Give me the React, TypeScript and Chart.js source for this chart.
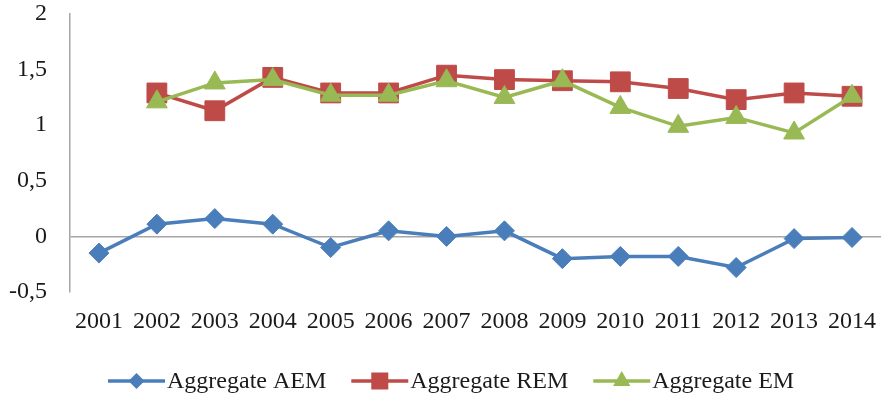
import React, { useEffect, useRef } from "react";
import { Chart, registerables } from "chart.js";

Chart.register(...registerables);

const years = ["2001", "2002", "2003", "2004", "2005", "2006", "2007", "2008", "2009", "2010", "2011", "2012", "2013", "2014"];
const aggregateAEM = [-0.15, 0.11, 0.16, 0.11, -0.1, 0.05, 0.0, 0.05, -0.2, -0.18, -0.18, -0.28, -0.02, -0.01];
const aggregateREM = [null, 1.29, 1.13, 1.43, 1.29, 1.29, 1.45, 1.41, 1.4, 1.39, 1.33, 1.23, 1.29, 1.26];
const aggregateEM = [null, 1.21, 1.38, 1.41, 1.27, 1.27, 1.4, 1.25, 1.4, 1.16, 0.99, 1.07, 0.93, 1.26];
const seriesNames = ["Aggregate AEM", "Aggregate REM", "Aggregate EM"];

const BLUE = "#4a7ebb";
const RED = "#be4b48";
const GREEN = "#98b954";
const FONT = "'Liberation Serif', 'Times New Roman', serif";

const legendPlugin = {
  id: "customLegend",
  afterDraw(chart: any) {
    const ctx = chart.ctx;
    const y = 381;
    const lineLen = 57;
    const itemGap = 25;
    ctx.save();
    ctx.font = `24px ${FONT}`;
    ctx.textBaseline = "middle";
    ctx.textAlign = "left";
    const items = chart.data.datasets.map((ds: any) => ({
      label: ds.label,
      color: ds.borderColor,
      style: ds.pointStyle,
      w: ctx.measureText(ds.label).width,
    }));
    let x = 108;
    for (const it of items) {
      ctx.strokeStyle = it.color;
      ctx.fillStyle = it.color;
      ctx.lineWidth = 3.5;
      ctx.beginPath();
      ctx.moveTo(x, y);
      ctx.lineTo(x + lineLen, y);
      ctx.stroke();
      const cx = x + lineLen / 2;
      ctx.beginPath();
      if (it.style === "rectRot") {
        const r = 8;
        ctx.moveTo(cx, y - r);
        ctx.lineTo(cx + r, y);
        ctx.lineTo(cx, y + r);
        ctx.lineTo(cx - r, y);
      } else if (it.style === "rect") {
        const s = 8.5;
        ctx.rect(cx - s, y - s, 2 * s, 2 * s);
      } else {
        const r = 10;
        ctx.moveTo(cx, y - r);
        ctx.lineTo(cx + r * 0.866, y + r * 0.5);
        ctx.lineTo(cx - r * 0.866, y + r * 0.5);
      }
      ctx.closePath();
      ctx.fill();
      ctx.fillStyle = "#1a1a1a";
      ctx.fillText(it.label, x + lineLen + 2, y + 1);
      x += lineLen + 2 + it.w + itemGap;
    }
    ctx.restore();
  },
};

export default function App() {
  const ref = useRef<HTMLCanvasElement>(null);
  useEffect(() => {
    document.body.style.margin = "0";
    const chart = new Chart(ref.current!, {
      type: "line",
      data: {
        labels: years,
        datasets: [
          {
            label: seriesNames[0],
            data: aggregateAEM,
            borderColor: BLUE,
            backgroundColor: BLUE,
            borderWidth: 3.5,
            pointStyle: "rectRot",
            pointRadius: 10,
            pointBorderWidth: 1,
            order: 2,
          },
          {
            label: seriesNames[1],
            data: aggregateREM,
            borderColor: RED,
            backgroundColor: RED,
            borderWidth: 3.5,
            pointStyle: "rect",
            pointRadius: 14,
            pointBorderWidth: 1,
            order: 1,
          },
          {
            label: seriesNames[2],
            data: aggregateEM,
            borderColor: GREEN,
            backgroundColor: GREEN,
            borderWidth: 3.5,
            pointStyle: "triangle",
            pointRadius: 12,
            pointBorderWidth: 1,
            order: 0,
          },
        ],
      },
      options: {
        animation: false,
        responsive: false,
        maintainAspectRatio: false,
        layout: { autoPadding: false, padding: { top: 14, right: 0, left: 0, bottom: 0 } },
        plugins: { legend: { display: false }, tooltip: { enabled: false } },
        scales: {
          x: {
            type: "category",
            offset: true,
            grid: {
              display: true,
              drawOnChartArea: false,
              drawTicks: true,
              tickLength: 15,
              color: "rgba(0,0,0,0)",
            },
            border: { display: false },
            ticks: {
              autoSkip: false,
              maxRotation: 0,
              padding: 0,
              color: "#1a1a1a",
              font: { family: FONT, size: 24 },
            },
            afterFit(scale: any) {
              scale.height = 110;
              scale.paddingLeft = 0;
              scale.paddingRight = 0;
            },
          },
          y: {
            min: -0.5,
            max: 2,
            grid: {
              drawTicks: false,
              color: (c: any) => (c.tick && c.tick.value === 0 ? "#a6a6a6" : "rgba(0,0,0,0)"),
              lineWidth: 1.5,
            },
            border: { display: true, color: "#a6a6a6", width: 1.5 },
            ticks: {
              stepSize: 0.5,
              padding: 23,
              color: "#1a1a1a",
              font: { family: FONT, size: 24 },
              callback: (v: any) => String(v).replace(".", ","),
            },
            afterFit(scale: any) {
              scale.width = 70;
              scale.paddingTop = 0;
              scale.paddingBottom = 0;
            },
          },
        },
      },
      plugins: [legendPlugin],
    });
    return () => chart.destroy();
  }, []);
  return (
    <div style={{ width: 881, height: 402 }}>
      <canvas ref={ref} width={881} height={402} style={{ width: 881, height: 402, display: "block" }} />
    </div>
  );
}
